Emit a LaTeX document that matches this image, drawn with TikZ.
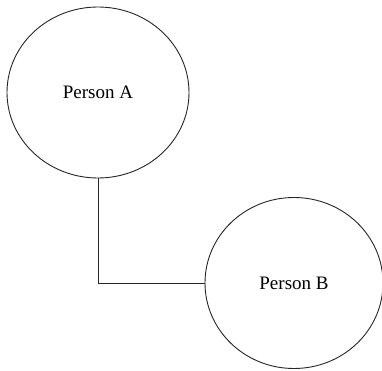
\documentclass[tikz,border=0pt]{standalone}
\usepackage{fontspec}
\setmainfont{Liberation Serif}
\usetikzlibrary{shapes.geometric}
\begin{document}
\begin{tikzpicture}[x=1pt,y=-1pt,
  person/.style={ellipse, draw=black!85, line width=0.9pt, inner sep=0pt, font=\fontsize{19}{22}\selectfont},
  link/.style={draw=black!85, line width=0.9pt}]
\useasboundingbox (0,0) rectangle (382,371);
\node[person, minimum width=182pt, minimum height=171pt] (A) at (98,92.5) {Person A};
\node[person, minimum width=178pt, minimum height=171pt] (B) at (294,283) {Person B};
\draw[link] (A.south) |- (B.west);
\end{tikzpicture}
\end{document}
